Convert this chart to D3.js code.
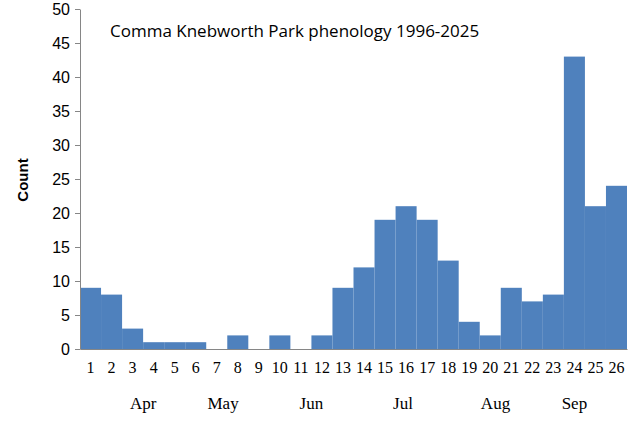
<!DOCTYPE html>
<html><head><meta charset="utf-8">
<script src="https://cdn.jsdelivr.net/npm/d3@7"></script>
<style>body{margin:0;background:#fff}</style></head>
<body><svg id="c" width="640" height="423"></svg>
<script>
const categories = d3.range(1,27).map(String);
const counts = [9,8,3,1,1,1,0,2,0,2,0,2,9,12,19,21,19,13,4,2,9,7,8,43,21,24];
const yTicks = [0,5,10,15,20,25,30,35,40,45,50];
const months = [{name:"Apr",at:3.5},{name:"May",at:7.3},{name:"Jun",at:11.5},{name:"Jul",at:15.85},{name:"Aug",at:20.25},{name:"Sep",at:24}];

const svg = d3.select("#c");
const m = {l:80,r:627,t:9,b:349};
const x = d3.scaleBand().domain(categories).range([m.l,m.r]).padding(0);
const y = d3.scaleLinear().domain([0,50]).range([m.b,m.t]);
const xm = d3.scaleLinear().domain([0.5,26.5]).range([m.l,m.r]);

svg.append("g").selectAll("rect").data(counts).join("rect")
  .attr("x",(d,i)=>x(categories[i])).attr("width",x.bandwidth())
  .attr("y",d=>y(d)).attr("height",d=>y(0)-y(d))
  .attr("fill","#4f81bd");

const ya = svg.append("g").attr("transform",`translate(${m.l},0)`)
  .call(d3.axisLeft(y).tickValues(yTicks).tickSize(5).tickSizeOuter(0));
ya.select(".domain").attr("stroke","#868686");
ya.selectAll(".tick line").attr("stroke","#868686");
ya.selectAll("text").attr("font-family","Liberation Sans, Arial").attr("font-size",16).attr("fill","#000").attr("dx",-2);

const xa = svg.append("g").attr("transform",`translate(0,${m.b})`)
  .call(d3.axisBottom(x).tickSize(0).tickSizeOuter(0));
xa.select(".domain").attr("stroke","#868686");
xa.selectAll("text").attr("font-family","Liberation Serif, Times New Roman").attr("font-size",16).attr("fill","#000").attr("dy","1.3em");

svg.append("g").selectAll("text").data(months).join("text")
  .attr("x",d=>xm(d.at)).attr("y",409).attr("text-anchor","middle")
  .attr("font-family","Liberation Serif, Times New Roman").attr("font-size",17).text(d=>d.name);

svg.append("text").attr("transform","translate(28,180) rotate(-90)")
  .attr("text-anchor","middle").attr("font-family","Liberation Sans, Arial")
  .attr("font-weight","bold").attr("font-size",15).text("Count");

svg.append("text").attr("x",110).attr("y",37).attr("font-family","Open Sans, Liberation Sans")
  .attr("font-size",17).text("Comma Knebworth Park phenology 1996-2025");
</script></body></html>
